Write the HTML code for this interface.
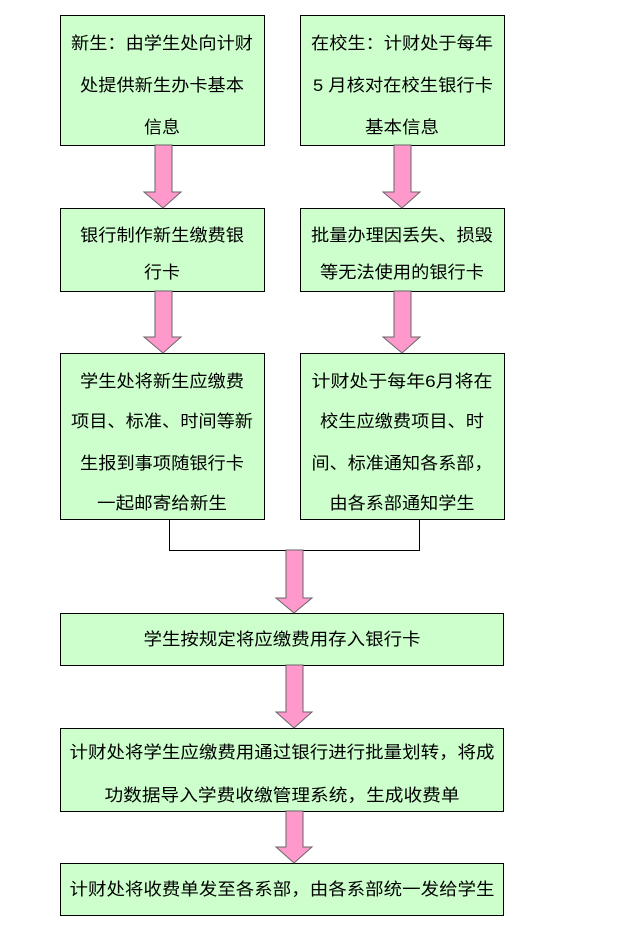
<!DOCTYPE html>
<html><head><meta charset="utf-8"><style>body{margin:0;background:#fff}svg{display:block}</style></head><body>
<svg width="637" height="927" xmlns="http://www.w3.org/2000/svg" font-family="Liberation Sans, Noto Sans CJK SC, sans-serif" font-size="17" fill="#000">
<g fill="#ccffcc" stroke="#000" stroke-width="1">
<rect x="60.5" y="15.5" width="204" height="130"/>
<rect x="300.5" y="15.5" width="204" height="130"/>
<rect x="60.5" y="208.5" width="204" height="83"/>
<rect x="300.5" y="208.5" width="204" height="83"/>
<rect x="60.5" y="353.5" width="204" height="166"/>
<rect x="300.5" y="353.5" width="204" height="166"/>
<rect x="60.5" y="613.5" width="443" height="52"/>
<rect x="60.5" y="728.5" width="443" height="83"/>
<rect x="60.5" y="863.5" width="443" height="52"/>
</g>
<path d="M169.5 519 V550.5 H419.5 V519" fill="none" stroke="#000"/>
<g fill="#ff99cc" stroke="#666" stroke-width="1">
<path d="M155 145 H172 V192 H181 L163 208 L144 192 H155 Z"/>
<path d="M394 145 H411 V192 H420 L402 208 L383 192 H394 Z"/>
<path d="M155 291 H172 V337 H181 L163 353 L144 337 H155 Z"/>
<path d="M394 291 H411 V337 H420 L402 353 L383 337 H394 Z"/>
<path d="M286 550 H303 V598 H312 L294 613 L276 598 H286 Z"/>
<path d="M286 665 H303 V712 H312 L294 728 L276 712 H286 Z"/>
<path d="M286 811 H303 V847 H312 L294 863 L276 847 H286 Z"/>
</g>
<g text-anchor="middle" stroke="none">
<text x="162" y="49" textLength="182" lengthAdjust="spacingAndGlyphs">新生：由学生处向计财</text>
<text x="162" y="91" textLength="164" lengthAdjust="spacingAndGlyphs">处提供新生办卡基本</text>
<text x="162" y="133" textLength="36" lengthAdjust="spacingAndGlyphs">信息</text>
<text x="402" y="49" textLength="182" lengthAdjust="spacingAndGlyphs">在校生：计财处于每年</text>
<text x="403" y="91" textLength="180" lengthAdjust="spacingAndGlyphs">5 月核对在校生银行卡</text>
<text x="402" y="133" textLength="74" lengthAdjust="spacingAndGlyphs">基本信息</text>
<text x="162" y="241" textLength="164" lengthAdjust="spacingAndGlyphs">银行制作新生缴费银</text>
<text x="162" y="278" textLength="36" lengthAdjust="spacingAndGlyphs">行卡</text>
<text x="402" y="241" textLength="182" lengthAdjust="spacingAndGlyphs">批量办理因丢失、损毁</text>
<text x="402" y="278" textLength="164" lengthAdjust="spacingAndGlyphs">等无法使用的银行卡</text>
<text x="162" y="387" textLength="164" lengthAdjust="spacingAndGlyphs">学生处将新生应缴费</text>
<text x="162" y="427" textLength="182" lengthAdjust="spacingAndGlyphs">项目、标准、时间等新</text>
<text x="162" y="469" textLength="164" lengthAdjust="spacingAndGlyphs">生报到事项随银行卡</text>
<text x="162" y="509" textLength="130" lengthAdjust="spacingAndGlyphs">一起邮寄给新生</text>
<text x="402" y="387" textLength="181" lengthAdjust="spacingAndGlyphs">计财处于每年6月将在</text>
<text x="402" y="427" textLength="164" lengthAdjust="spacingAndGlyphs">校生应缴费项目、时</text>
<text x="402" y="469" textLength="181" lengthAdjust="spacingAndGlyphs">间、标准通知各系部，</text>
<text x="402" y="509" textLength="145" lengthAdjust="spacingAndGlyphs">由各系部通知学生</text>
<text x="282" y="645" textLength="277" lengthAdjust="spacingAndGlyphs">学生按规定将应缴费用存入银行卡</text>
<text x="282" y="758" textLength="425" lengthAdjust="spacingAndGlyphs">计财处将学生应缴费用通过银行进行批量划转，将成</text>
<text x="282" y="801" textLength="355" lengthAdjust="spacingAndGlyphs">功数据导入学费收缴管理系统，生成收费单</text>
<text x="282" y="895" textLength="425" lengthAdjust="spacingAndGlyphs">计财处将收费单发至各系部，由各系部统一发给学生</text>
</g>
</svg>
</body></html>
